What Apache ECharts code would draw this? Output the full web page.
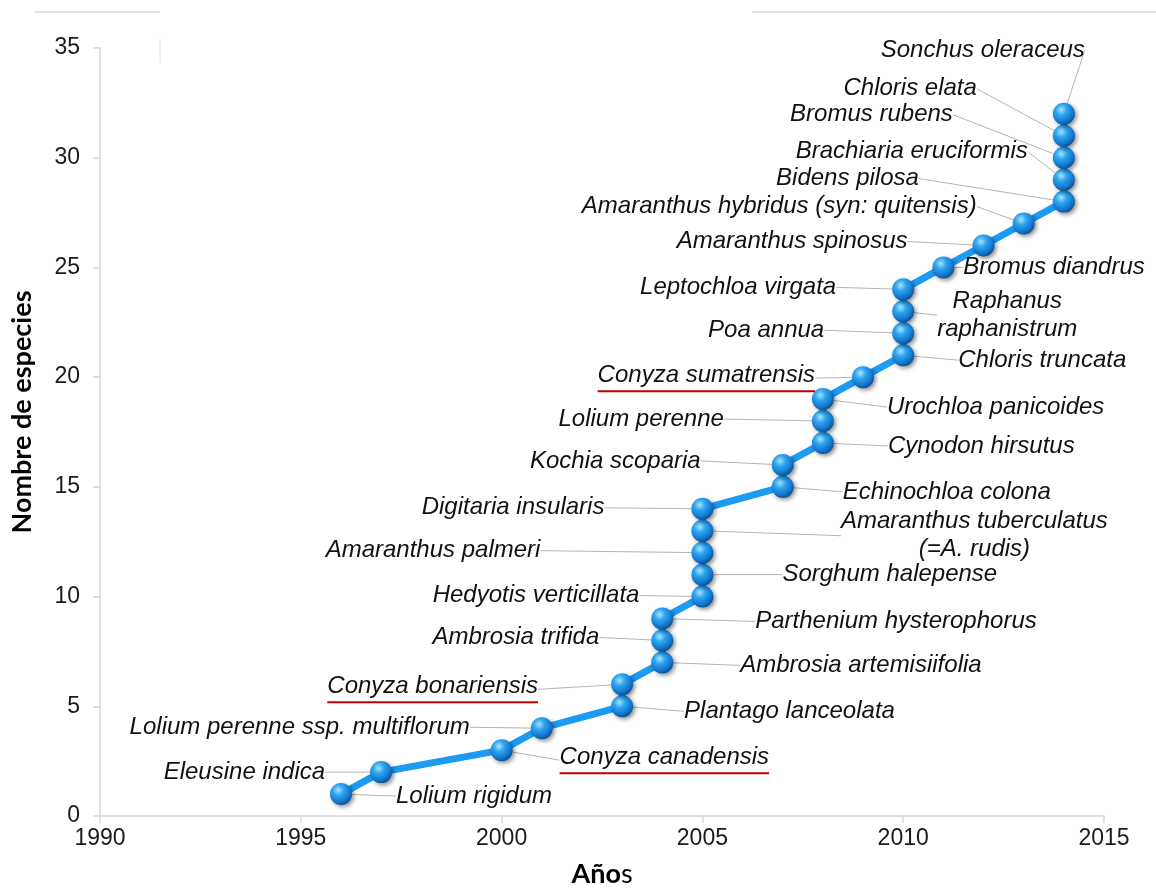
<!DOCTYPE html>
<html>
<head>
<meta charset="utf-8">
<script src="https://cdn.jsdelivr.net/npm/echarts@6/dist/echarts.min.js"></script>
<style>
html, body { margin: 0; padding: 0; background: #fff; }
#chart { width: 1156px; height: 888px; }
</style>
</head>
<body>
<div id="chart"></div>
<script>
// año de registro de cada especie resistente
const years = [1996, 1997, 2000, 2001, 2003, 2003, 2004, 2004, 2004, 2005, 2005, 2005, 2005, 2005,
  2007, 2007, 2008, 2008, 2008, 2009, 2010, 2010, 2010, 2010, 2011, 2012, 2013, 2014, 2014, 2014, 2014, 2014];
// número acumulado de especies
const counts = [1, 2, 3, 4, 5, 6, 7, 8, 9, 10, 11, 12, 13, 14, 15, 16,
  17, 18, 19, 20, 21, 22, 23, 24, 25, 26, 27, 28, 29, 30, 31, 32];
const species = [
  "Lolium rigidum", "Eleusine indica", "Conyza canadensis", "Lolium perenne ssp. multiflorum",
  "Plantago lanceolata", "Conyza bonariensis", "Ambrosia artemisiifolia", "Ambrosia trifida",
  "Parthenium hysterophorus", "Hedyotis verticillata", "Sorghum halepense", "Amaranthus palmeri",
  "Amaranthus tuberculatus\n(=A. rudis)", "Digitaria insularis", "Echinochloa colona", "Kochia scoparia",
  "Cynodon hirsutus", "Lolium perenne", "Urochloa panicoides", "Conyza sumatrensis",
  "Chloris truncata", "Poa annua", "Raphanus\nraphanistrum", "Leptochloa virgata",
  "Bromus diandrus", "Amaranthus spinosus", "Amaranthus hybridus (syn: quitensis)", "Bidens pilosa",
  "Brachiaria eruciformis", "Bromus rubens", "Chloris elata", "Sonchus oleraceus"
];
// especies subrayadas en rojo
const underlined = ["Conyza canadensis", "Conyza bonariensis", "Conyza sumatrensis"];
const xTicks = [1990, 1995, 2000, 2005, 2010, 2015];
const yTicks = [0, 5, 10, 15, 20, 25, 30, 35];

// desplazamiento de cada etiqueta respecto a su punto (px)
const labelDx = [55, -56, 58, -72, 62, -84, 78, -63, 93, -63, 80, -162, 272, -98, 60, -82,
  65, -99, 64, -48, 55, -79, 104, -67, 20, -76, -47, -145, -36, -111, -87, 21];
const labelDy = [2, 0, 10, -1, 5, 5, 3, -3, 3, -1, 0, -2, 5, -1, 5, -4,
  3, -2, 8, 1, 5, -3, 4, -2, 0, -4, -17, -23, -28, -43, -47, -64];
const labelAlign = ["left", "right", "left", "right", "left", "right", "left", "right",
  "left", "right", "left", "right", "center", "right", "left", "right",
  "left", "right", "left", "right", "left", "right", "center", "right",
  "left", "right", "right", "right", "right", "right", "right", "right"];

const chart = echarts.init(document.getElementById("chart"));

// bolita azul con brillo
const ballColor = new echarts.graphic.RadialGradient(0.38, 0.32, 0.7, [
  { offset: 0, color: "#a8e4ff" },
  { offset: 0.35, color: "#2ea6f2" },
  { offset: 0.8, color: "#1173c8" },
  { offset: 1, color: "#0b4f94" }
]);

const option = {
  animation: false,
  backgroundColor: "#fff",
  grid: { left: 100, right: 52, top: 48, bottom: 72, outerBoundsMode: "none" },
  xAxis: {
    type: "value",
    min: xTicks[0],
    max: xTicks[xTicks.length - 1],
    interval: 5,
    name: "{b|Año}{r|s}",
    nameLocation: "middle",
    nameGap: 45,
    nameTextStyle: {
      rich: {
        b: { fontFamily: "Lato", fontWeight: "bold", fontSize: 27, color: "#000" },
        r: { fontFamily: "Lato", fontWeight: "normal", fontSize: 27, color: "#000" }
      }
    },
    axisLine: { lineStyle: { color: "#d6d6d6", width: 1.5 } },
    axisTick: { show: true, length: 7, lineStyle: { color: "#d6d6d6", width: 1.5 } },
    axisLabel: {
      margin: 11,
      fontFamily: "Liberation Sans",
      fontSize: 23,
      color: "#1a1a1a",
      formatter: (v) => String(v)
    },
    splitLine: { show: false }
  },
  yAxis: {
    type: "value",
    min: yTicks[0],
    max: yTicks[yTicks.length - 1],
    interval: 5,
    name: "Nombre de especies",
    nameLocation: "middle",
    nameGap: 64,
    nameTextStyle: {
      fontFamily: "Lato",
      fontWeight: "bold",
      fontSize: 27,
      color: "#000",
      padding: [0, 0, 0, 40]
    },
    axisLine: { show: true, lineStyle: { color: "#d6d6d6", width: 1.5 } },
    axisTick: { show: true, length: 7, lineStyle: { color: "#d6d6d6", width: 1.5 } },
    axisLabel: {
      margin: 20,
      fontFamily: "Liberation Sans",
      fontSize: 23,
      color: "#1a1a1a"
    },
    splitLine: { show: false }
  },
  series: [
    {
      type: "line",
      data: years.map((y, i) => [y, counts[i]]),
      symbol: "circle",
      symbolSize: 22,
      showAllSymbol: true,
      lineStyle: { color: "#1c9bf3", width: 7 },
      itemStyle: {
        color: ballColor,
        shadowBlur: 4,
        shadowColor: "rgba(0,0,0,0.45)",
        shadowOffsetX: 2,
        shadowOffsetY: 2
      },
      label: {
        show: true,
        fontFamily: "Liberation Sans",
        fontStyle: "italic",
        fontSize: 24,
        lineHeight: 28,
        color: "#111",
        formatter: (p) => {
          const name = species[p.dataIndex];
          if (underlined.includes(name)) return "{t|" + name + "}\n{u| }";
          return name;
        },
        rich: {
          t: { fontFamily: "Liberation Sans", fontStyle: "italic", fontSize: 24, lineHeight: 26, color: "#111" },
          u: { width: "100%", height: 2, lineHeight: 6, backgroundColor: "#c00000", fontSize: 2 }
        }
      },
      labelLine: {
        show: true,
        length2: 0,
        lineStyle: { color: "#b4b4b4", width: 1 }
      },
      labelLayout: function (params) {
        const i = params.dataIndex;
        const cx = params.rect.x + params.rect.width / 2;
        const cy = params.rect.y + params.rect.height / 2;
        return {
          x: cx + labelDx[i],
          y: cy + labelDy[i],
          align: labelAlign[i],
          verticalAlign: "middle"
        };
      }
    }
  ],
  // restos de la diapositiva original
  graphic: [
    { type: "line", shape: { x1: 35, y1: 12, x2: 160, y2: 12 }, style: { stroke: "#d9d9d9", lineWidth: 1.5 } },
    { type: "line", shape: { x1: 752, y1: 12, x2: 1156, y2: 12 }, style: { stroke: "#d9d9d9", lineWidth: 1.5 } },
    { type: "line", shape: { x1: 160, y1: 39, x2: 160, y2: 63 }, style: { stroke: "#e2e2f2", lineWidth: 1 } }
  ]
};

chart.setOption(option);
</script>
</body>
</html>
